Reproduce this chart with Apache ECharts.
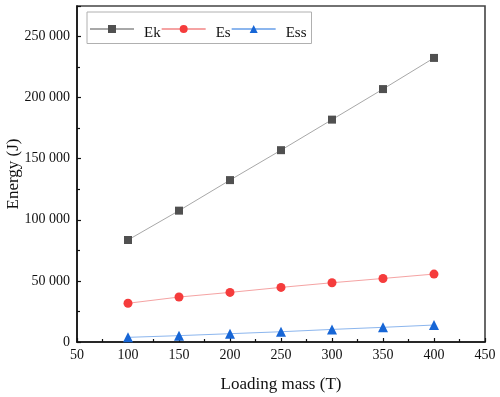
<!DOCTYPE html>
<html>
<head>
<meta charset="utf-8">
<script src="https://cdn.jsdelivr.net/npm/echarts@6/dist/echarts.min.js"></script>
<style>html,body{margin:0;padding:0;background:#fff}#c{width:500px;height:397px}</style>
</head>
<body>
<div id="c"></div>
<script>
const mass = [100, 150, 200, 250, 300, 350, 400];
const ek = [83500, 107500, 132500, 157000, 182000, 207000, 232500];
const es = [31700, 36800, 40600, 44700, 48500, 52000, 55600];
const ess = [3800, 5200, 6800, 8400, 10300, 12000, 13900];

const font = "'Liberation Serif', 'Times New Roman', serif";
const pair = (xs, ys) => xs.map((x, i) => [x, ys[i]]);
const fmt = v => {
  const s = String(Math.round(v));
  return s.replace(/\B(?=(\d{3})+(?!\d))/g, ' ');
};

const chart = echarts.init(document.getElementById('c'), null, {renderer: 'canvas'});
chart.setOption({
  animation: false,
  backgroundColor: '#fff',
  textStyle: {fontFamily: font},
  grid: {left: 77, right: 15, top: 6, bottom: 55, show: true, borderColor: '#444', borderWidth: 1.6,
         backgroundColor: 'transparent', containLabel: false, outerBoundsMode: 'none'},
  legend: {
    left: 87, top: 12,
    padding: [13, 5, 3, 2],
    itemGap: 0,
    itemWidth: 44,
    itemHeight: 10,
    borderColor: '#b0b0b0', borderWidth: 1,
    formatter: '{t|{name}}',
    textStyle: {fontFamily: font, fontSize: 15, color: '#111',
      rich: {t: {fontFamily: font, fontSize: 15, color: '#111', padding: [8, 0, 0, 5]}}},
    data: ['Ek', 'Es', 'Ess']
  },
  xAxis: {
    type: 'value', min: 50, max: 450, interval: 50,
    name: 'Loading mass (T)', nameLocation: 'middle', nameGap: 34, nameMoveOverlap: false,
    nameTextStyle: {fontFamily: font, fontSize: 17, color: '#111'},
    axisLine: {show: true, onZero: false, lineStyle: {color: '#111', width: 1.6}},
    axisTick: {show: true, inside: true, length: 4, lineStyle: {color: '#111', width: 1.2}},
    minorTick: {show: true, splitNumber: 2, length: 3, lineStyle: {color: '#111', width: 1.2}},
    axisLabel: {fontFamily: font, fontSize: 14, color: '#111', margin: 6},
    splitLine: {show: false}
  },
  yAxis: {
    type: 'value', min: 0, max: 275000, interval: 50000,
    name: 'Energy (J)', nameLocation: 'middle', nameGap: 55, nameMoveOverlap: false,
    nameTextStyle: {fontFamily: font, fontSize: 17, color: '#111'},
    axisLine: {show: true, lineStyle: {color: '#111', width: 1.6}},
    axisTick: {show: true, inside: true, length: 4, lineStyle: {color: '#111', width: 1.2}},
    minorTick: {show: true, splitNumber: 2, length: 3, lineStyle: {color: '#111', width: 1.2}},
    axisLabel: {fontFamily: font, fontSize: 14, color: '#111', margin: 7, showMaxLabel: false, formatter: fmt},
    splitLine: {show: false}
  },
  series: [
    {name: 'Ek', type: 'line', data: pair(mass, ek), symbol: 'rect', symbolSize: 8,
     itemStyle: {color: '#505050'}, lineStyle: {color: '#a8a8a8', width: 1}},
    {name: 'Es', type: 'line', data: pair(mass, es), symbol: 'circle', symbolSize: 9,
     itemStyle: {color: '#f53c3c'}, lineStyle: {color: '#f5a3a3', width: 1}},
    {name: 'Ess', type: 'line', data: pair(mass, ess), symbol: 'triangle', symbolSize: 10,
     itemStyle: {color: '#1766d6'}, lineStyle: {color: '#8cb6ee', width: 1}}
  ]
});
</script>
</body>
</html>
